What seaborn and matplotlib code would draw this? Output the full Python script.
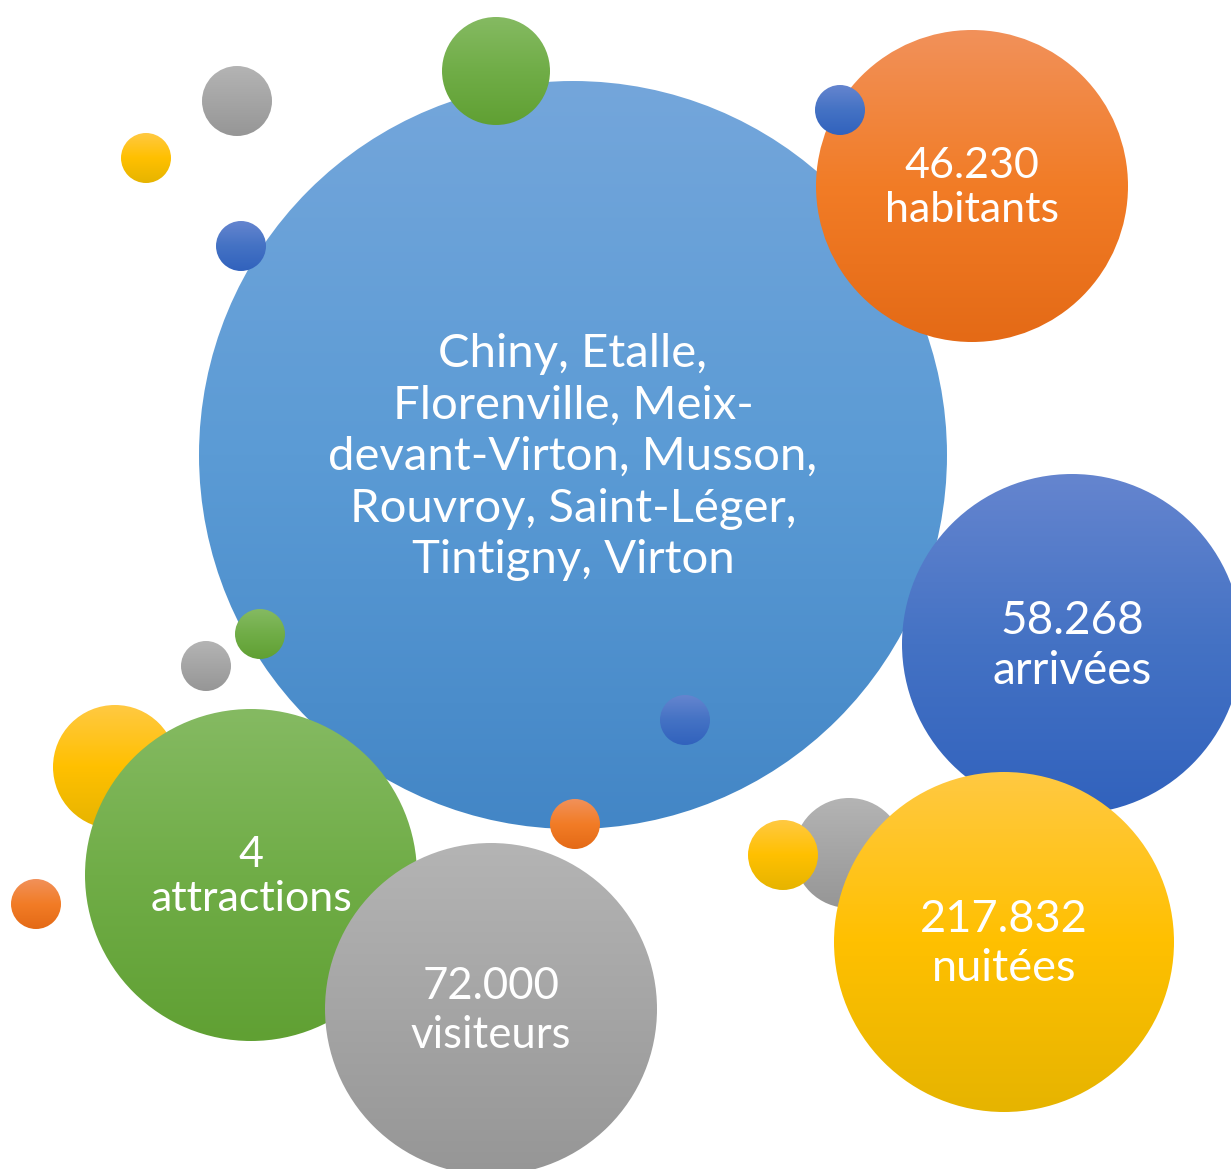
import numpy as np
import pandas as pd
import matplotlib
matplotlib.use("Agg")
import matplotlib.pyplot as plt
from matplotlib.patches import Circle
import seaborn as sns

# bubbles, listed in drawing order (back to front); pixel-space centre and radius
bubble_x = [237, 146, 573, 496, 241, 972, 840, 1072, 260, 206, 685,
            115, 251, 575, 491, 36, 849, 783, 1004]
bubble_y = [101, 158, 455, 71, 246, 186, 110, 644, 634, 666, 720,
            767, 875, 824, 1009, 904, 853, 855, 942]
bubble_r = [35, 25, 374, 54, 25, 156, 25, 170, 25, 25, 25,
            62, 166, 25, 166, 25, 55, 35, 170]
bubble_color = ["gray", "yellow", "lightblue", "green", "blue", "orange", "blue",
                "blue", "green", "gray", "blue", "yellow", "green", "orange",
                "gray", "orange", "gray", "yellow", "yellow"]
bubble_label = ["", "", "Chiny, Etalle,\nFlorenville, Meix-\ndevant-Virton, Musson,\n"
                "Rouvroy, Saint-Léger,\nTintigny, Virton",
                "", "", "46.230\nhabitants", "", "58.268\narrivées", "", "", "",
                "", "4\nattractions", "", "72.000\nvisiteurs", "", "", "",
                "217.832\nnuitées"]
label_size = [0, 0, 34, 0, 0, 31, 0, 33, 0, 0, 0, 0, 31, 0, 31.5, 0, 0, 0, 32.5]

# top / middle / bottom stops of the office-style gradients
GRADIENTS = {
    "lightblue": ["#74A6DB", "#5B9BD5", "#4386C6"],
    "orange": ["#F1915A", "#F27C26", "#E46A16"],
    "blue": ["#6585CF", "#4472C4", "#3162BD"],
    "yellow": ["#FFC942", "#FFC000", "#E6B400"],
    "green": ["#85BA62", "#70AD47", "#60A033"],
    "gray": ["#B4B4B4", "#A5A5A5", "#969696"],
}

df = pd.DataFrame({"x": bubble_x, "y": bubble_y, "r": bubble_r,
                   "color": bubble_color, "label": bubble_label,
                   "size": label_size})

sns.set_theme(style="white")
plt.rcParams["font.family"] = ["Lato", "DejaVu Sans"]

W, H = 1231, 1169
fig = plt.figure(figsize=(W / 100, H / 100), dpi=100)
ax = fig.add_axes([0, 0, 1, 1])
ax.set_xlim(0, W)
ax.set_ylim(H, 0)
ax.set_aspect("equal")
ax.axis("off")

grad = np.linspace(0, 1, 256).reshape(-1, 1)

for i, row in df.iterrows():
    cmap = sns.blend_palette(GRADIENTS[row["color"]], as_cmap=True)
    circ = Circle((row["x"], row["y"]), row["r"], facecolor="none",
                  edgecolor="none", transform=ax.transData)
    ax.add_patch(circ)
    img = ax.imshow(grad, cmap=cmap, aspect="auto", interpolation="bilinear",
                    extent=[row["x"] - row["r"], row["x"] + row["r"],
                            row["y"] + row["r"], row["y"] - row["r"]],
                    zorder=i + 1)
    img.set_clip_path(circ)
    if row["label"]:
        # the big multi-line label sits a bit looser than the short ones
        spacing = 1.28 if row["label"].count("\n") > 1 else 1.22
        ax.text(row["x"], row["y"] + 2, row["label"], ha="center", va="center",
                multialignment="center", color="white", fontsize=row["size"],
                linespacing=spacing, zorder=100)

ax.set_xlim(0, W)
ax.set_ylim(H, 0)
fig.savefig("out.png", dpi=100, facecolor="white")
